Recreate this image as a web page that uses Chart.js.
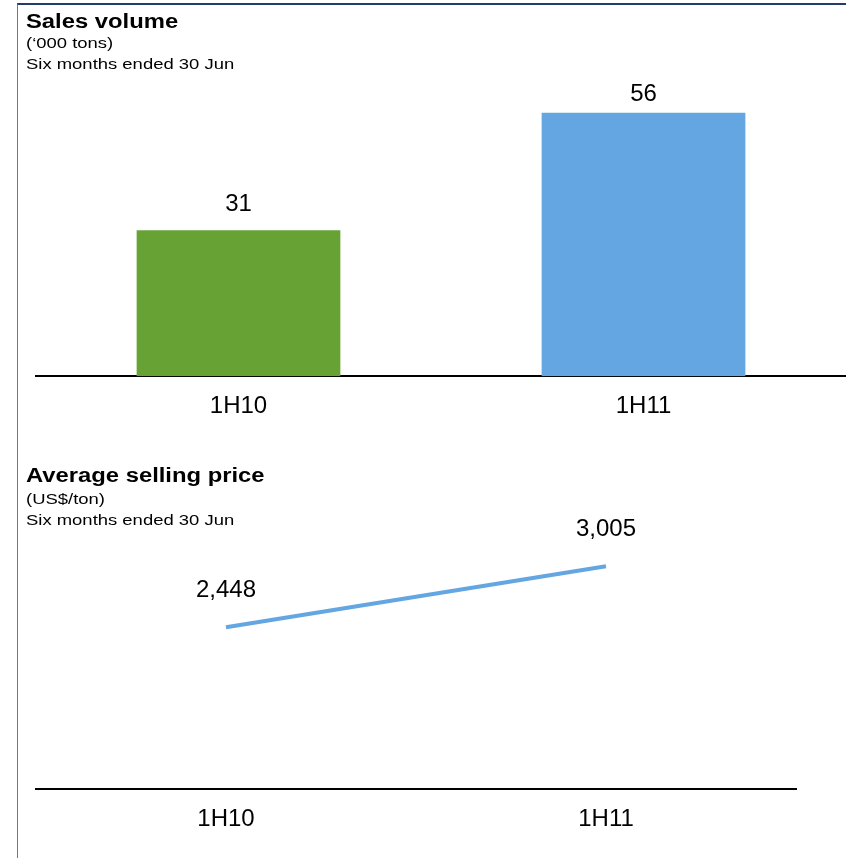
<!DOCTYPE html>
<html>
<head>
<meta charset="utf-8">
<script src="https://cdn.jsdelivr.net/npm/chart.js@4.4.1/dist/chart.umd.min.js"></script>
<style>
  html, body { margin: 0; padding: 0; background: #ffffff; }
  body { width: 846px; height: 858px; position: relative; overflow: hidden; font-family: "Liberation Sans", Arial, sans-serif; color: #000; }
  .frame { position: absolute; left: 17px; top: 3px; right: 0; bottom: 0; border-top: 2px solid #223d6b; border-left: 1px solid #5a7cb0; }
  .t { position: absolute; left: 26px; white-space: nowrap; transform-origin: left top; line-height: normal; }
  .title { font-size: 20px; font-weight: bold; transform: scaleX(1.19); }
  .sub { font-size: 15.5px; transform: scaleX(1.19); }
  .box { position: absolute; left: 0; width: 846px; }
</style>
</head>
<body>
<div class="frame"></div>
<div class="box" style="top:0;height:440px"><canvas id="c1"></canvas></div>
<div class="box" style="top:440px;height:418px"><canvas id="c2"></canvas></div>
<div class="t title" style="top:9.5px">Sales volume</div>
<div class="t sub" style="top:33.5px">(‘000 tons)</div>
<div class="t sub" style="top:54.5px">Six months ended 30 Jun</div>
<div class="t title" style="top:463.5px">Average selling price</div>
<div class="t sub" style="top:489.5px">(US$/ton)</div>
<div class="t sub" style="top:510.5px">Six months ended 30 Jun</div>
<script>
// ---- data ----
const volumeCategories = ["1H10", "1H11"];
const volumeValues = [31, 56];
const volumeColors = ["#67a334", "#64a6e2"];

const priceCategories = ["1H10", "1H11"];
const priceValues = [2448, 3005];
const priceColor = "#64a6e2";

const FONT = "'Liberation Sans', Arial, sans-serif";

const valueLabels = {
  id: "valueLabels",
  afterDatasetsDraw(chart, args, opts) {
    const ctx = chart.ctx;
    ctx.save();
    ctx.font = "24px " + FONT;
    ctx.fillStyle = "#000";
    ctx.textAlign = "center";
    ctx.textBaseline = "alphabetic";
    chart.data.datasets.forEach((ds, di) => {
      const meta = chart.getDatasetMeta(di);
      meta.data.forEach((el, i) => {
        const v = ds.data[i];
        const txt = v.toLocaleString("en-US");
        const gap = Array.isArray(opts.gap) ? opts.gap[i] : opts.gap;
        ctx.fillText(txt, el.x, el.y - gap);
      });
    });
    ctx.restore();
  }
};

new Chart(document.getElementById("c1"), {
  type: "bar",
  data: {
    labels: volumeCategories,
    datasets: [{
      data: volumeValues,
      backgroundColor: volumeColors,
      borderWidth: 0,
      barPercentage: 0.503,
      categoryPercentage: 1.0
    }]
  },
  options: {
    responsive: true,
    maintainAspectRatio: false,
    animation: false,
    layout: { padding: { left: 36, right: 0, top: 100, bottom: 3 } },
    plugins: { legend: { display: false }, tooltip: { enabled: false }, valueLabels: { gap: [19, 12] } },
    scales: {
      x: {
        grid: { display: false, drawTicks: false },
        border: { display: true, color: "#000", width: 2 },
        ticks: { color: "#000", font: { family: FONT, size: 24 }, padding: 16 }
      },
      y: { display: false, min: 0, max: 58.7 }
    }
  },
  plugins: [valueLabels]
});

new Chart(document.getElementById("c2"), {
  type: "line",
  data: {
    labels: priceCategories,
    datasets: [{
      data: priceValues,
      borderColor: priceColor,
      borderWidth: 4,
      pointRadius: 0,
      tension: 0,
      fill: false
    }]
  },
  options: {
    responsive: true,
    maintainAspectRatio: false,
    animation: false,
    layout: { padding: { left: 36, right: 50, top: 80, bottom: 8 } },
    plugins: { legend: { display: false }, tooltip: { enabled: false }, valueLabels: { gap: 30 } },
    scales: {
      x: {
        offset: true,
        grid: { display: false, drawTicks: false },
        border: { display: true, color: "#000", width: 2 },
        ticks: { color: "#000", font: { family: FONT, size: 24 }, padding: 16 }
      },
      y: { display: false, min: 970, max: 3427 }
    }
  },
  plugins: [valueLabels]
});
</script>
</body>
</html>
